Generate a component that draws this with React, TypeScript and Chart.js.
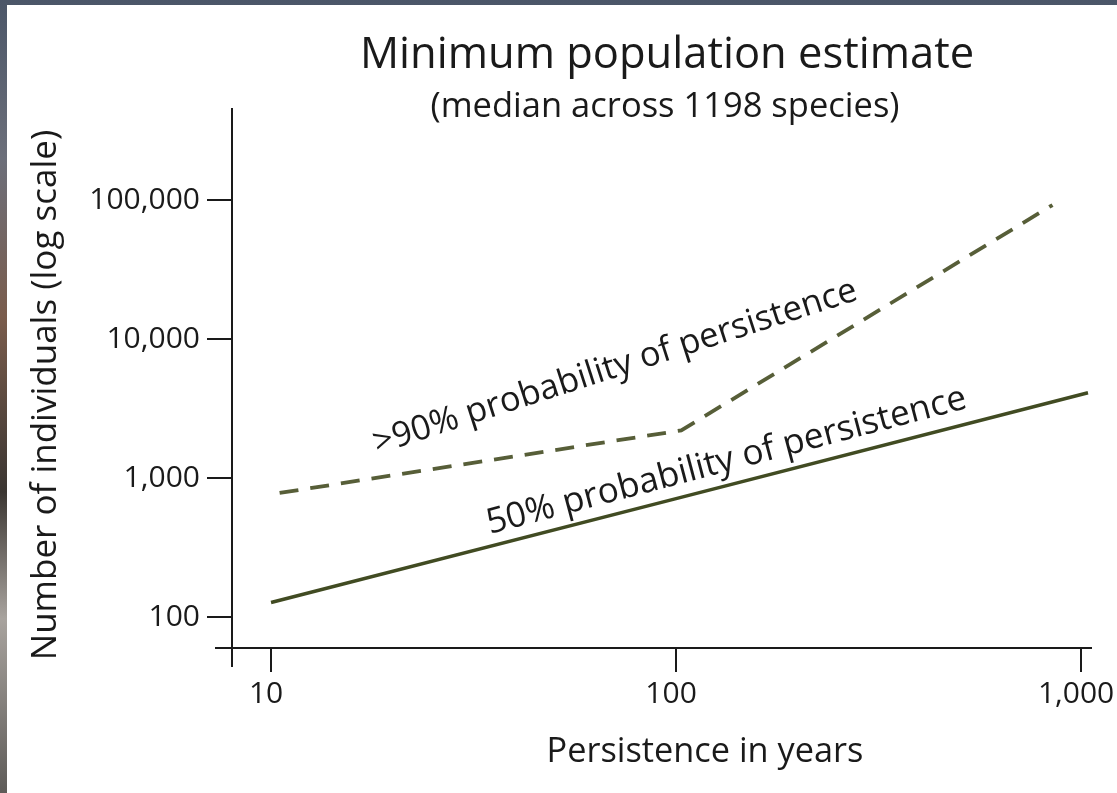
import React, { useEffect, useRef } from "react";
import { Chart, registerables } from "chart.js";

Chart.register(...registerables);

const TITLE = "Minimum population estimate";
const SUBTITLE = "(median across 1198 species)";
const X_TITLE = "Persistence in years";
const Y_TITLE = "Number of individuals (log scale)";

const LABEL_50 = "50% probability of persistence";
const LABEL_90 = ">90% probability of persistence";

// 50% probability of persistence (solid)
const years50 = [10, 100, 1040];
const pop50 = [127, 710, 4100];

// >90% probability of persistence (dashed)
const years90 = [10.5, 103, 850];
const pop90 = [780, 2200, 92000];

const xTicks = [10, 100, 1000];
const yTicks = [100, 1000, 10000, 100000];

const FONT = '"Open Sans", "Noto Sans", sans-serif';
const INK = "#1a1a1a";

const fmt = (v: number) => Number(v).toLocaleString("en-US");

const decorPlugin = {
  id: "decor",
  afterDraw(chart: any) {
    const { ctx, chartArea } = chart;
    const { left, right, top, bottom } = chartArea;
    const xs = chart.scales.x;
    const ys = chart.scales.y;
    ctx.save();
    // axes
    ctx.strokeStyle = INK;
    ctx.lineWidth = 2;
    ctx.beginPath();
    ctx.moveTo(left, top);
    ctx.lineTo(left, bottom + 19);
    ctx.moveTo(left - 17, bottom);
    ctx.lineTo(right, bottom);
    ctx.stroke();

    ctx.fillStyle = INK;
    // titles
    ctx.textAlign = "center";
    ctx.textBaseline = "alphabetic";
    ctx.font = `43.5px ${FONT}`;
    ctx.fillText(TITLE, 660, 63);
    ctx.font = `34.5px ${FONT}`;
    ctx.fillText(SUBTITLE, 658, 112);
    ctx.font = `34.3px ${FONT}`;
    ctx.fillText(X_TITLE, 698, 757);
    ctx.save();
    ctx.font = `35px ${FONT}`;
    ctx.translate(49, 390);
    ctx.rotate(-Math.PI / 2);
    ctx.fillText(Y_TITLE, 0, 0);
    ctx.restore();

    // line annotations
    const annot = (text: string, xv: number, yv: number, deg: number, size: number) => {
      ctx.save();
      ctx.translate(xs.getPixelForValue(xv), ys.getPixelForValue(yv));
      ctx.rotate((-deg * Math.PI) / 180);
      ctx.textAlign = "left";
      ctx.textBaseline = "alphabetic";
      ctx.font = `${size}px ${FONT}`;
      ctx.fillText(text, 0, 0);
      ctx.restore();
    };
    annot(LABEL_90, 18.3, 1488, 17.8, 34.6);
    annot(LABEL_50, 34.7, 395, 14.8, 35.2);
    ctx.restore();
  },
};

export default function App() {
  const ref = useRef<HTMLCanvasElement | null>(null);
  useEffect(() => {
    if (!ref.current) return;
    const chart = new Chart(ref.current, {
      type: "line",
      data: {
        datasets: [
          {
            label: LABEL_50,
            data: years50.map((x, i) => ({ x, y: pop50[i] })),
            borderColor: "#414b22",
            borderWidth: 3.5,
            pointRadius: 0,
            tension: 0,
            fill: false,
          },
          {
            label: LABEL_90,
            data: years90.map((x, i) => ({ x, y: pop90[i] })),
            borderColor: "#575e38",
            borderWidth: 3.8,
            borderDash: [19, 12],
            pointRadius: 0,
            tension: 0,
            fill: false,
          },
        ],
      },
      options: {
        animation: false,
        responsive: false,
        layout: { padding: { top: 103, right: 25, left: 0, bottom: 0 } },
        plugins: {
          legend: { display: false },
          tooltip: { enabled: false },
          title: { display: false },
        },
        scales: {
          x: {
            type: "logarithmic",
            min: 8.01,
            max: 1064,
            afterBuildTicks: (s: any) => {
              s.ticks = xTicks.map((v) => ({ value: v }));
            },
            afterFit: (s: any) => {
              s.height = 145;
              s.paddingLeft = 0;
              s.paddingRight = 0;
            },
            grid: {
              drawOnChartArea: false,
              drawTicks: true,
              tickLength: 24,
              color: INK,
              lineWidth: 2,
            },
            border: { display: false },
            ticks: {
              autoSkip: false,
              maxRotation: 0,
              padding: 4,
              labelOffset: -5,
              color: INK,
              font: { family: FONT, size: 30 },
              callback: (v: any) => fmt(v),
            },
          },
          y: {
            type: "logarithmic",
            min: 59.8,
            max: 459000,
            afterBuildTicks: (s: any) => {
              s.ticks = yTicks.map((v) => ({ value: v }));
            },
            afterFit: (s: any) => {
              s.width = 225;
              s.paddingTop = 0;
              s.paddingBottom = 0;
            },
            grid: {
              drawOnChartArea: false,
              drawTicks: true,
              tickLength: 25,
              color: INK,
              lineWidth: 2,
            },
            border: { display: false },
            ticks: {
              autoSkip: false,
              padding: 7,
              color: INK,
              font: { family: FONT, size: 30 },
              callback: (v: any) => fmt(v),
            },
          },
        },
      },
      plugins: [decorPlugin],
    } as any);
    return () => chart.destroy();
  }, []);

  return (
    <div
      style={{
        position: "fixed",
        left: 0,
        top: 0,
        width: 1117,
        height: 793,
        overflow: "hidden",
        background:
          "linear-gradient(180deg, #4b5668 0%, #6c6f7a 20%, #7a5c4c 40%, #3b3632 62%, #a8a39e 78%, #5e5b58 100%)",
      }}
    >
      <div
        style={{
          position: "absolute",
          left: 7,
          top: 5,
          width: 1110,
          height: 788,
          background: "#ffffff",
        }}
      >
        <canvas ref={ref} width={1110} height={788} style={{ display: "block" }} />
      </div>
    </div>
  );
}
